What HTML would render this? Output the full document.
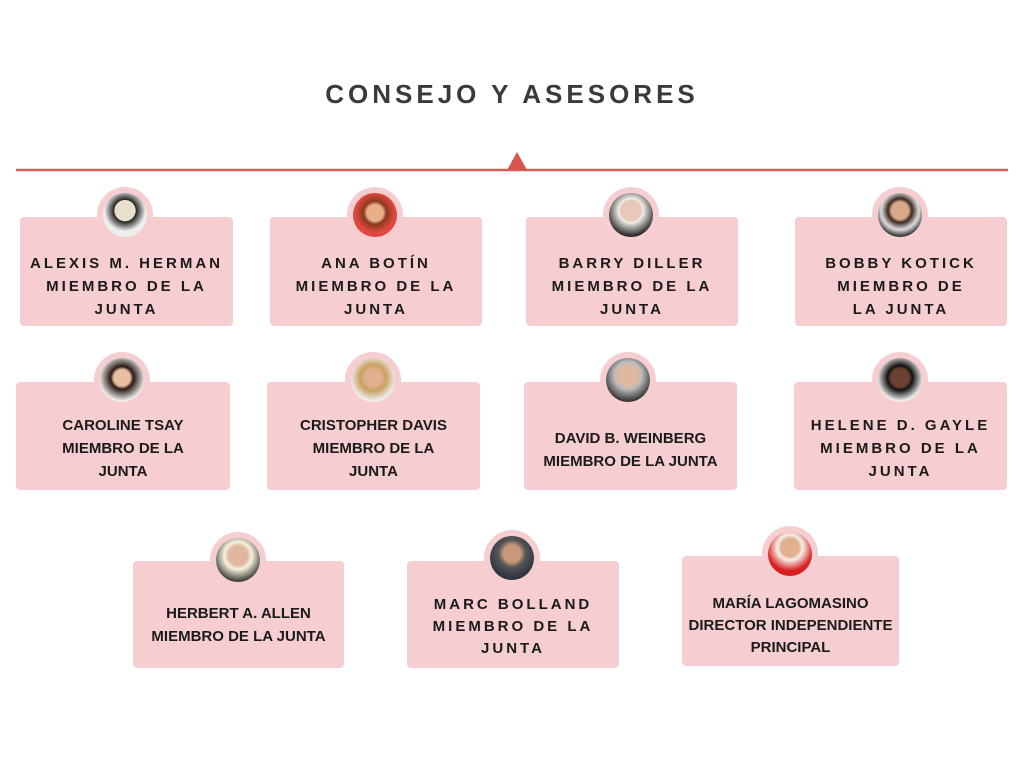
<!DOCTYPE html>
<html><head><meta charset="utf-8"><style>
body{margin:0;width:1024px;height:768px;background:#fff;position:relative;overflow:hidden;font-family:"Liberation Sans",sans-serif}
.t{position:absolute;left:0;width:1024px;top:79px;text-align:center;font-size:26px;font-weight:bold;letter-spacing:4px;color:#3a3a3a}
.card{position:absolute;background:#f6ced1;border-radius:4px}
.ring{position:absolute;width:56px;height:56px;border-radius:50%;background:#f6ced1}
.ph{position:absolute;left:6px;top:6px;width:44px;height:44px;border-radius:50%;overflow:hidden}
.txt{position:absolute;text-align:center;font-weight:bold;font-size:15px;line-height:23px;color:#1a1a1a}
.sp{letter-spacing:3px}
</style></head><body>
<div class="t">CONSEJO Y ASESORES</div>
<svg style="position:absolute;left:0;top:0" width="1024" height="200"><line x1="16" y1="170" x2="1008" y2="170" stroke="#d0605a" stroke-width="2.5"/><polygon points="507,170 517,152 527,170" fill="#d9534f"/></svg>

<!-- row1 -->
<div class="card" style="left:20px;top:217px;width:213px;height:109px"></div>
<div class="card" style="left:270px;top:217px;width:212px;height:109px"></div>
<div class="card" style="left:526px;top:217px;width:212px;height:109px"></div>
<div class="card" style="left:795px;top:217px;width:212px;height:109px"></div>
<div class="ring" style="left:97px;top:187px"><div class="ph" style="background:radial-gradient(circle at 50% 40%,#e8e0cc 30%,#222 32%,#eee 60%)"></div></div>
<div class="ring" style="left:347px;top:187px"><div class="ph" style="background:radial-gradient(circle at 50% 45%,#e8b088 25%,#8a3a20 35%,#e0473d 60%)"></div></div>
<div class="ring" style="left:603px;top:187px"><div class="ph" style="background:radial-gradient(circle at 50% 40%,#e8c8b8 30%,#f0eee8 35%,#222 75%)"></div></div>
<div class="ring" style="left:872px;top:187px"><div class="ph" style="background:radial-gradient(circle at 50% 40%,#d8a888 25%,#3a2a20 35%,#ddd 55%,#333 75%)"></div></div>
<div class="txt sp" style="left:20px;width:213px;top:252px">ALEXIS M. HERMAN<br>MIEMBRO DE LA<br>JUNTA</div>
<div class="txt sp" style="left:270px;width:212px;top:252px">ANA BOTÍN<br>MIEMBRO DE LA<br>JUNTA</div>
<div class="txt sp" style="left:526px;width:212px;top:252px">BARRY DILLER<br>MIEMBRO DE LA<br>JUNTA</div>
<div class="txt sp" style="left:795px;width:212px;top:252px">BOBBY KOTICK<br>MIEMBRO DE<br>LA JUNTA</div>

<!-- row2 -->
<div class="card" style="left:16px;top:382px;width:214px;height:108px"></div>
<div class="card" style="left:267px;top:382px;width:213px;height:108px"></div>
<div class="card" style="left:524px;top:382px;width:213px;height:108px"></div>
<div class="card" style="left:794px;top:382px;width:213px;height:108px"></div>
<div class="ring" style="left:94px;top:352px"><div class="ph" style="background:radial-gradient(circle at 50% 45%,#e8c0a0 25%,#2a1a14 35%,#eee 70%)"></div></div>
<div class="ring" style="left:345px;top:352px"><div class="ph" style="background:radial-gradient(circle at 50% 45%,#e0b090 25%,#c8a060 40%,#eee 70%)"></div></div>
<div class="ring" style="left:600px;top:352px"><div class="ph" style="background:radial-gradient(circle at 50% 40%,#e0b8a0 28%,#bbb 40%,#333 75%)"></div></div>
<div class="ring" style="left:872px;top:352px"><div class="ph" style="background:radial-gradient(circle at 50% 45%,#6a4030 28%,#111 38%,#eee 70%)"></div></div>
<div class="txt" style="left:16px;width:214px;top:414px">CAROLINE TSAY<br>MIEMBRO DE LA<br>JUNTA</div>
<div class="txt" style="left:267px;width:213px;top:414px">CRISTOPHER DAVIS<br>MIEMBRO DE LA<br>JUNTA</div>
<div class="txt" style="left:524px;width:213px;top:427px">DAVID B. WEINBERG<br>MIEMBRO DE LA JUNTA</div>
<div class="txt sp" style="left:794px;width:213px;top:414px">HELENE D. GAYLE<br>MIEMBRO DE LA<br>JUNTA</div>

<!-- row3 -->
<div class="card" style="left:133px;top:561px;width:211px;height:107px"></div>
<div class="card" style="left:407px;top:561px;width:212px;height:107px"></div>
<div class="card" style="left:682px;top:556px;width:217px;height:110px"></div>
<div class="ring" style="left:210px;top:532px"><div class="ph" style="background:radial-gradient(circle at 50% 40%,#e0b8a0 28%,#f5f2dc 40%,#222 80%)"></div></div>
<div class="ring" style="left:484px;top:530px"><div class="ph" style="background:radial-gradient(circle at 50% 40%,#c89878 25%,#555 40%,#2a3040 75%)"></div></div>
<div class="ring" style="left:762px;top:526px"><div class="ph" style="background:radial-gradient(circle at 50% 35%,#e0b090 25%,#f5f0e8 35%,#d82020 65%)"></div></div>
<div class="txt" style="left:133px;width:211px;top:602px">HERBERT A. ALLEN<br>MIEMBRO DE LA JUNTA</div>
<div class="txt sp" style="left:407px;width:212px;top:594px;line-height:22px">MARC BOLLAND<br>MIEMBRO DE LA<br>JUNTA</div>
<div class="txt" style="left:682px;width:217px;top:593px;line-height:22px">MARÍA LAGOMASINO<br>DIRECTOR INDEPENDIENTE<br>PRINCIPAL</div>
</body></html>
